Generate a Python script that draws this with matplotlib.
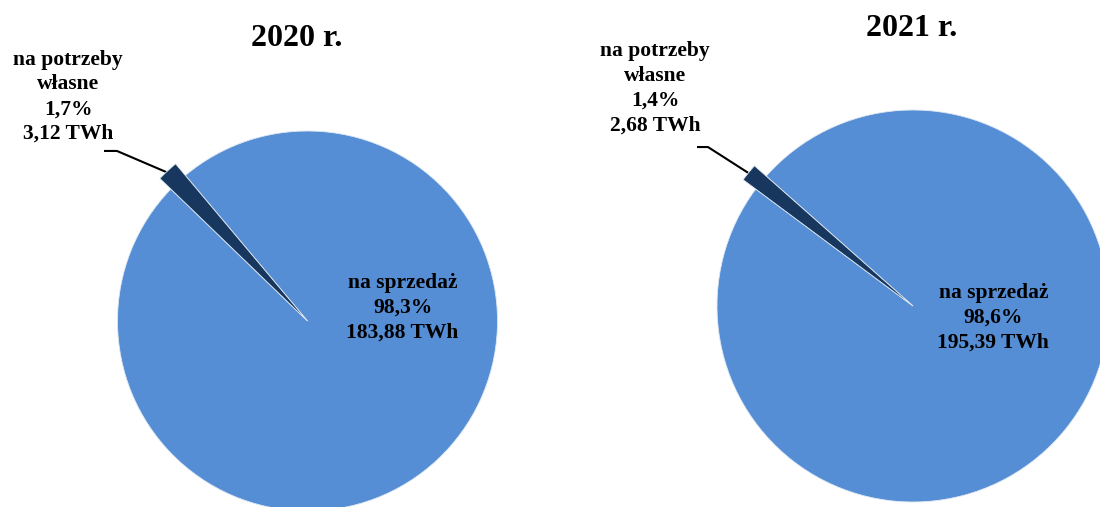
import numpy as np
import matplotlib
matplotlib.use("Agg")
import matplotlib.pyplot as plt

# data
years = ["2020 r.", "2021 r."]
categories = ["na potrzeby\nwłasne", "na sprzedaż"]
values_2020 = [3.12, 183.88]
values_2021 = [2.68, 195.39]
pct_2020 = ["1,7%", "98,3%"]
pct_2021 = ["1,4%", "98,6%"]

colors = ["#17375E", "#558ED5"]
font = ["Liberation Serif", "DejaVu Serif"]

W, H = 1100, 507
fig = plt.figure(figsize=(W / 100, H / 100), dpi=100)


def make_axes(cx, cy, r, lim=1.5):
    # cx, cy in pixels from top-left; r pie radius in pixels
    size = 2 * lim * r
    ax = fig.add_axes([(cx - lim * r) / W, (H - cy - lim * r) / H, size / W, size / H])
    ax.set_xlim(-lim, lim)
    ax.set_ylim(-lim, lim)
    ax.set_aspect("equal")
    ax.axis("off")
    return ax


def fmt(v):
    return f"{v:.2f}".replace(".", ",") + " TWh"


def draw_pie(ax, values, pcts, startangle, big_pos, small_pos, leader):
    wedges, _ = ax.pie(values, colors=colors, startangle=startangle, counterclock=True,
                       radius=1.0, center=(0, 0), frame=True,
                       wedgeprops=dict(linewidth=0.6, edgecolor="#dfe8f3"))
    ax.set_xlim(-1.5, 1.5)
    ax.set_ylim(-1.5, 1.5)
    ax.axis("off")
    # the small slice sticks out a little, as in the original
    small = wedges[0]
    small.set_radius(1.08)
    small.set_zorder(3)
    mid = np.deg2rad((small.theta1 + small.theta2) / 2)
    ex, ey = 1.06 * np.cos(mid), 1.06 * np.sin(mid)
    (x0, y0), (x1, y1) = leader
    ax.plot([x0, x1, ex], [y0, y1, ey], color="black", lw=1.5, zorder=2,
            solid_capstyle="butt", clip_on=False)

    ax.text(*big_pos, f"{categories[1]}\n{pcts[1]}\n{fmt(values[1])}",
            ha="center", va="center", fontsize=15.5, fontweight="bold",
            family=font, linespacing=1.32, zorder=5)
    ax.text(*small_pos, f"{categories[0]}\n{pcts[0]}\n{fmt(values[0])}",
            ha="center", va="center", fontsize=15.5, fontweight="bold",
            family=font, linespacing=1.32, clip_on=False, zorder=5)


ax1 = make_axes(307.5, 321, 190)
draw_pie(ax1, values_2020, pct_2020, 130, (0.50, 0.07), (-1.26, 1.18),
         ((-1.071, 0.895), (-1.003, 0.895)))

ax2 = make_axes(913, 306, 196)
draw_pie(ax2, values_2021, pct_2021, 138.5, (0.41, -0.06), (-1.316, 1.11),
         ((-1.102, 0.811), (-1.046, 0.811)))

fig.text(297 / W, 1 - 39 / H, years[0], ha="center", va="center",
         fontsize=23, fontweight="bold", family=font)
fig.text(912 / W, 1 - 29 / H, years[1], ha="center", va="center",
         fontsize=23, fontweight="bold", family=font)

fig.savefig("out.png", dpi=100, facecolor="white")
